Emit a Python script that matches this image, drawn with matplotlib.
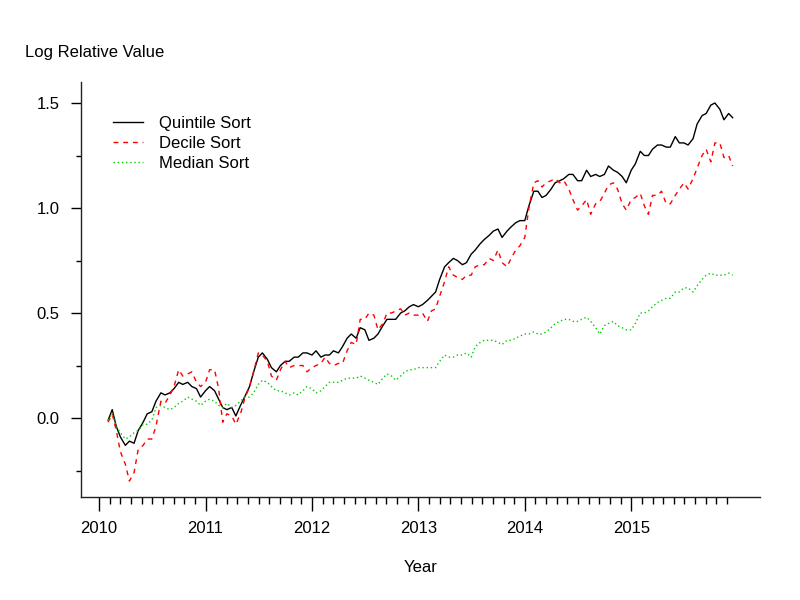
import numpy as np
import pandas as pd
import matplotlib
matplotlib.use("Agg")
import matplotlib.pyplot as plt
from matplotlib.ticker import FixedLocator

# --- Data: log relative value, read twice a month (1st and 15th) ---
dates = pd.date_range("2010-02-01", periods=142, freq="SMS")

quintile = [
    -0.01, 0.04, -0.04, -0.09, -0.13, -0.11, -0.12, -0.06, -0.02, 0.02, 0.03, 0.08,
    0.12, 0.11, 0.12, 0.14, 0.17, 0.16, 0.17, 0.15, 0.14, 0.10, 0.13, 0.15,
    0.13, 0.09, 0.05, 0.04, 0.05, 0.01, 0.06, 0.10, 0.15, 0.22, 0.29, 0.31,
    0.28, 0.24, 0.22, 0.25, 0.27, 0.27, 0.29, 0.29, 0.31, 0.31, 0.30, 0.32,
    0.29, 0.30, 0.30, 0.32, 0.31, 0.34, 0.38, 0.40, 0.38, 0.43, 0.42, 0.37,
    0.38, 0.40, 0.44, 0.47, 0.47, 0.47, 0.50, 0.51, 0.53, 0.54, 0.53, 0.54,
    0.56, 0.58, 0.60, 0.66, 0.72, 0.74, 0.76, 0.75, 0.73, 0.74, 0.78, 0.80,
    0.83, 0.85, 0.87, 0.89, 0.90, 0.86, 0.89, 0.91, 0.93, 0.94, 0.94, 1.01,
    1.08, 1.08, 1.05, 1.06, 1.09, 1.12, 1.13, 1.14, 1.16, 1.16, 1.13, 1.13,
    1.18, 1.15, 1.16, 1.15, 1.16, 1.20, 1.18, 1.17, 1.15, 1.12, 1.18, 1.21,
    1.27, 1.25, 1.25, 1.28, 1.30, 1.30, 1.29, 1.29, 1.34, 1.31, 1.31, 1.30,
    1.33, 1.40, 1.44, 1.45, 1.49, 1.50, 1.47, 1.42, 1.45, 1.43,
]

decile = [
    -0.02, 0.02, -0.06, -0.16, -0.22, -0.30, -0.26, -0.15, -0.13, -0.10, -0.10, -0.04,
    0.08, 0.07, 0.11, 0.15, 0.23, 0.20, 0.21, 0.22, 0.17, 0.15, 0.17, 0.23,
    0.23, 0.14, -0.02, 0.02, 0.01, -0.03, 0.02, 0.09, 0.15, 0.22, 0.31, 0.30,
    0.27, 0.20, 0.18, 0.23, 0.27, 0.24, 0.25, 0.25, 0.25, 0.22, 0.24, 0.25,
    0.26, 0.29, 0.26, 0.25, 0.26, 0.26, 0.32, 0.36, 0.35, 0.47, 0.47, 0.50,
    0.49, 0.42, 0.45, 0.50, 0.50, 0.51, 0.52, 0.49, 0.50, 0.49, 0.49, 0.50,
    0.46, 0.51, 0.52, 0.58, 0.65, 0.72, 0.68, 0.67, 0.66, 0.68, 0.68, 0.72,
    0.73, 0.73, 0.76, 0.75, 0.80, 0.74, 0.72, 0.76, 0.80, 0.82, 0.86, 1.00,
    1.12, 1.13, 1.10, 1.12, 1.13, 1.14, 1.12, 1.13, 1.09, 1.04, 0.99, 1.01,
    1.04, 0.97, 1.02, 1.03, 1.07, 1.11, 1.12, 1.09, 1.02, 0.99, 1.04, 1.05,
    1.07, 1.01, 0.97, 1.06, 1.06, 1.08, 1.02, 1.02, 1.06, 1.09, 1.12, 1.09,
    1.14, 1.19, 1.25, 1.28, 1.22, 1.31, 1.31, 1.24, 1.25, 1.20,
]

median = [
    -0.01, 0.02, -0.04, -0.07, -0.10, -0.09, -0.07, -0.06, -0.03, -0.03, -0.01, 0.05,
    0.06, 0.05, 0.04, 0.05, 0.07, 0.08, 0.10, 0.09, 0.08, 0.06, 0.08, 0.09,
    0.08, 0.06, 0.05, 0.07, 0.05, 0.06, 0.08, 0.10, 0.10, 0.12, 0.16, 0.18,
    0.17, 0.15, 0.13, 0.13, 0.12, 0.11, 0.12, 0.11, 0.13, 0.15, 0.14, 0.12,
    0.13, 0.15, 0.17, 0.17, 0.17, 0.18, 0.19, 0.19, 0.19, 0.20, 0.19, 0.18,
    0.17, 0.16, 0.19, 0.21, 0.20, 0.18, 0.20, 0.22, 0.23, 0.23, 0.24, 0.24,
    0.24, 0.24, 0.24, 0.27, 0.30, 0.29, 0.29, 0.30, 0.30, 0.31, 0.29, 0.34,
    0.36, 0.37, 0.37, 0.37, 0.36, 0.35, 0.37, 0.37, 0.38, 0.39, 0.40, 0.40,
    0.41, 0.40, 0.40, 0.41, 0.43, 0.45, 0.46, 0.47, 0.47, 0.46, 0.46, 0.47,
    0.48, 0.46, 0.43, 0.40, 0.44, 0.45, 0.46, 0.44, 0.43, 0.42, 0.42, 0.45,
    0.50, 0.50, 0.51, 0.53, 0.55, 0.56, 0.57, 0.57, 0.60, 0.60, 0.62, 0.62,
    0.60, 0.63, 0.66, 0.68, 0.69, 0.68, 0.68, 0.68, 0.69, 0.68,
]

year_ticks = [2010, 2011, 2012, 2013, 2014, 2015]
value_ticks = [0.0, 0.5, 1.0, 1.5]

# decimal years for the x axis
t = dates.year + (dates.dayofyear - 1) / np.where(dates.is_leap_year, 366, 365)

plt.rcParams["font.family"] = ["Liberation Sans", "DejaVu Sans"]
plt.rcParams["font.size"] = 12

fig = plt.figure(figsize=(8, 6), dpi=100)
ax = fig.add_axes([81 / 800, 103 / 600, 679 / 800, 415 / 600])

ax.plot(t, quintile, color="black", lw=1.0, label="Quintile Sort")
ax.plot(t, decile, color="#ff0000", lw=1.0, dashes=(3.5, 3.5), label="Decile Sort")
ax.plot(t, median, color="#00cd00", lw=1.0, dashes=(1, 2), label="Median Sort")

ax.set_xlim(2009.83, 2016.21)
ax.set_ylim(-0.376, 1.60)

# --- Axes in base-R style: only left and bottom lines ---
for side in ["top", "right"]:
    ax.spines[side].set_visible(False)
for side in ["left", "bottom"]:
    ax.spines[side].set_linewidth(1.0)
    ax.spines[side].set_color("#222222")

ax.set_xticks(year_ticks)
ax.set_xticklabels([str(y) for y in year_ticks])
minor_x = [v for v in np.round(np.arange(2010.1, 2015.95, 0.1), 1) if v % 1 != 0]
ax.xaxis.set_minor_locator(FixedLocator(minor_x))
ax.set_yticks(value_ticks)
ax.set_yticklabels([f"{v:.1f}" for v in value_ticks])
ax.yaxis.set_minor_locator(FixedLocator([-0.25, 0.25, 0.75, 1.25]))

ax.tick_params(axis="x", which="major", length=10, width=1.0, pad=7, labelsize=12)
ax.tick_params(axis="x", which="minor", length=5, width=1.0)
ax.tick_params(axis="y", which="major", length=7.5, width=1.0, pad=8, labelsize=12)
ax.tick_params(axis="y", which="minor", length=3.8, width=1.0)

fig.text(25 / 800, 1 - 52 / 600, "Log Relative Value", fontsize=12, va="center", ha="left")
fig.text(420.5 / 800, 1 - 568 / 600, "Year", fontsize=12, va="center", ha="center")

ax.legend(loc="upper left", bbox_to_anchor=(113 / 800, 1 - 116 / 600),
          bbox_transform=fig.transFigure, frameon=False, fontsize=12,
          handlelength=1.8, handletextpad=0.95, labelspacing=0.31,
          borderpad=0, borderaxespad=0)

plt.savefig("out.png", dpi=100)
